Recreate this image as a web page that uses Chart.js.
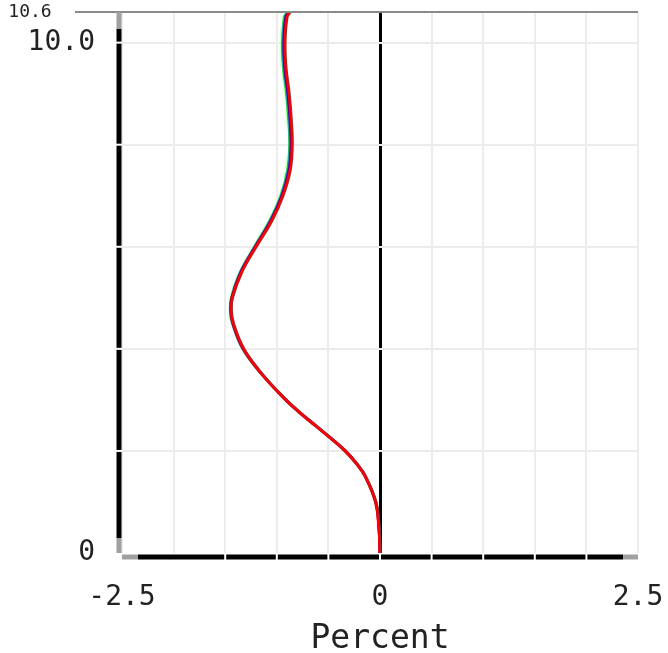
<!DOCTYPE html>
<html>
<head>
<meta charset="utf-8">
<title>Percent profile</title>
<script src="https://cdn.jsdelivr.net/npm/chart.js@4.4.1/dist/chart.umd.min.js"></script>
<style>
    html, body { margin: 0; padding: 0; background: #fff; }
</style>
</head>
<body>
<canvas id="canvas" width="668" height="653"></canvas>
<script>
// depth levels (y) and the three profiles (x, percent)
var depths = [0, 0.5, 1, 1.5, 1.75, 2, 2.25, 2.5, 2.75, 3, 3.5, 4, 4.5, 4.75, 5, 5.5, 6, 6.5, 7, 7.5, 8, 8.5, 9, 9.5, 10, 10.5, 10.6];
var redVals = [0, -0.01, -0.04, -0.14, -0.225, -0.335, -0.475, -0.625, -0.775, -0.91, -1.14, -1.32, -1.42, -1.44, -1.43, -1.34, -1.2, -1.05, -0.94, -0.87, -0.85, -0.86, -0.88, -0.91, -0.92, -0.9, -0.87];
var blueVals = [0, -0.01, -0.042, -0.142, -0.227, -0.337, -0.477, -0.627, -0.777, -0.912, -1.142, -1.325, -1.425, -1.445, -1.435, -1.348, -1.208, -1.06, -0.95, -0.882, -0.862, -0.872, -0.892, -0.922, -0.932, -0.912, -0.88];
var greenVals = [0, -0.01, -0.045, -0.145, -0.23, -0.34, -0.48, -0.63, -0.78, -0.915, -1.145, -1.33, -1.43, -1.45, -1.44, -1.355, -1.215, -1.07, -0.96, -0.895, -0.875, -0.885, -0.905, -0.935, -0.945, -0.925, -0.895];

var xMin = -2.5, xMax = 2.5, xStep = 0.5;
var yMin = 0, yMax = 10.6;
var yTickVals = [0, 2, 4, 6, 8, 10, 10.6];
var xLabelVals = [-2.5, 0, 2.5];

var mono = "'DejaVu Sans Mono', monospace";

function toPoints(vals) {
    var pts = [];
    for (var i = 0; i < depths.length; i++) {
        pts.push({ x: vals[i], y: depths[i] });
    }
    return pts;
}

function profile(vals, color) {
    return {
        data: toPoints(vals),
        borderColor: color,
        borderWidth: 3,
        pointRadius: 0,
        fill: false,
        tension: 0.4
    };
}

// heavy axis bars, the top rule and the white notches on the bars
var axisFrame = {
    id: 'axisFrame',
    afterDraw: function (chart) {
        var ctx = chart.ctx, a = chart.chartArea;
        var xs = chart.scales.x, ys = chart.scales.y;

        function seg(x1, y1, x2, y2, color) {
            ctx.strokeStyle = color;
            ctx.beginPath();
            ctx.moveTo(x1, y1);
            ctx.lineTo(x2, y2);
            ctx.stroke();
        }

        ctx.save();
        ctx.lineWidth = 2;
        seg(a.left - 47, a.top, a.right, a.top, '#8a8a8a');

        ctx.lineWidth = 5;
        var lx = a.left - 3;
        seg(lx, a.top, lx, a.top + 17, '#a0a0a0');
        seg(lx, a.top + 17, lx, a.bottom - 15, '#000');
        seg(lx, a.bottom - 15, lx, a.bottom, '#a0a0a0');

        var by = a.bottom + 4;
        seg(a.left, by, a.left + 16, by, '#a0a0a0');
        seg(a.left + 16, by, a.right - 15, by, '#000');
        seg(a.right - 15, by, a.right, by, '#a0a0a0');

        ctx.fillStyle = '#fff';
        ys.ticks.forEach(function (t) {
            if (t.value > yMin && t.value < yMax) {
                var p = ys.getPixelForValue(t.value);
                ctx.fillRect(lx - 3, p - 1, 6, 2);
            }
        });
        xs.ticks.forEach(function (t) {
            if (t.value > xMin + xStep && t.value < xMax) {
                var p = xs.getPixelForValue(t.value);
                ctx.fillRect(p - 1, by - 3, 2, 6);
            }
        });
        ctx.restore();
    }
};

var ctx = document.getElementById('canvas').getContext('2d');

var myChart = new Chart(ctx, {
    type: 'line',
    data: {
        datasets: [
            profile(redVals, '#ff0000'),
            profile(blueVals, '#1010ff'),
            profile(greenVals, '#00e000')
        ]
    },
    plugins: [axisFrame],
    options: {
        responsive: false,
        animation: false,
        indexAxis: 'y',
        layout: { padding: { left: 0, right: 30, top: 12, bottom: 0 } },
        plugins: {
            legend: { display: false },
            tooltip: { enabled: false }
        },
        scales: {
            x: {
                type: 'linear',
                min: xMin,
                max: xMax,
                afterFit: function (scale) {
                    scale.height = 100;
                    scale.paddingLeft = 0;
                    scale.paddingRight = 0;
                },
                ticks: {
                    stepSize: xStep,
                    autoSkip: false,
                    maxRotation: 0,
                    padding: 28,
                    color: '#222',
                    font: { family: mono, size: 28 },
                    callback: function (v) {
                        return xLabelVals.indexOf(v) >= 0 ? String(v) : '';
                    }
                },
                grid: {
                    drawTicks: false,
                    color: function (c) { return c.tick && c.tick.value === 0 ? '#000' : '#ececec'; },
                    lineWidth: function (c) { return c.tick && c.tick.value === 0 ? 3 : 2; }
                },
                border: { display: false },
                title: {
                    display: true,
                    text: 'Percent',
                    color: '#222',
                    font: { family: mono, size: 33 },
                    padding: { top: 0, bottom: -6 }
                }
            },
            y: {
                type: 'linear',
                min: yMin,
                max: yMax,
                afterFit: function (scale) {
                    scale.width = 122;
                    scale.paddingTop = 0;
                    scale.paddingBottom = 0;
                },
                afterBuildTicks: function (scale) {
                    scale.ticks = yTickVals.map(function (v) { return { value: v }; });
                },
                ticks: {
                    autoSkip: false,
                    padding: 27,
                    color: '#222',
                    font: function (c) {
                        if (c.tick && c.tick.value === yMax) {
                            return { family: mono, size: 18 };
                        }
                        return { family: mono, size: 28 };
                    },
                    callback: function (v) {
                        if (v === yMax) return '10.6    ';
                        if (v === 10) return '10.0';
                        if (v === 0) return '0';
                        return '';
                    }
                },
                grid: {
                    drawTicks: false,
                    color: function (c) {
                        return c.tick && (c.tick.value === yMax || c.tick.value === yMin) ? 'rgba(0,0,0,0)' : '#ececec';
                    },
                    lineWidth: 2
                },
                border: { display: false }
            }
        }
    }
});
</script>
</body>
</html>
